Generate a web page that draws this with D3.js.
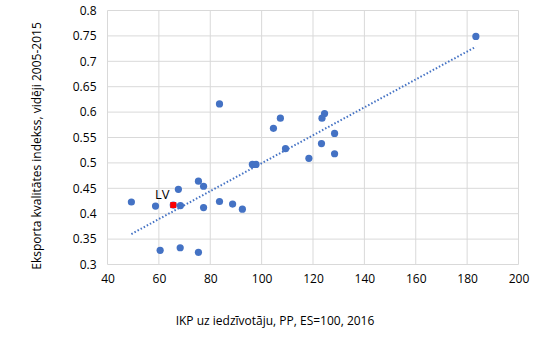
<!DOCTYPE html>
<html><head><meta charset="utf-8">
<script src="https://cdn.jsdelivr.net/npm/d3@7"></script>
<style>body{margin:0;background:#fff;} text{font-family:"Open Sans",sans-serif;}</style>
</head><body>
<svg id="c" width="535" height="355"></svg>
<script>
const gdp = [49.3,58.7,65.6,68.4,67.6,75.4,77.4,77.4,83.6,88.7,92.5,60.5,68.3,75.4,96.4,97.8,109.3,104.6,107.3,83.6,118.4,183.4,124.5,123.5,128.4,123.3,128.4];
const quality = [0.423,0.415,0.417,0.416,0.448,0.464,0.454,0.412,0.424,0.419,0.409,0.328,0.333,0.324,0.497,0.497,0.528,0.568,0.588,0.616,0.509,0.749,0.597,0.588,0.558,0.538,0.518];
const labels = ["","","LV","","","","","","","","","","","","","","","","","","","","","","","",""];
const xTicks = [40,60,80,100,120,140,160,180,200];
const yTicks = [0.3,0.35,0.4,0.45,0.5,0.55,0.6,0.65,0.7,0.75,0.8];
const xTitle = "IKP uz iedzīvotāju, PP, ES=100, 2016";
const yTitle = "Eksporta kvalitātes indekss, vidēji 2005-2015";

const FONT = "Open Sans, sans-serif";
const svg = d3.select("#c");
const x = d3.scaleLinear().domain([40,200]).range([107.5,518.5]);
const y = d3.scaleLinear().domain([0.3,0.8]).range([264.5,10.5]);
const blue = "#4472C4";

svg.append("g").selectAll("line").data(xTicks).join("line")
  .attr("x1",d=>x(d)).attr("x2",d=>x(d)).attr("y1",y(0.3)).attr("y2",y(0.8))
  .attr("stroke","#d9d9d9").attr("stroke-width",1);
svg.append("g").selectAll("line").data(yTicks).join("line")
  .attr("x1",x(40)).attr("x2",x(200)).attr("y1",d=>y(d)).attr("y2",d=>y(d))
  .attr("stroke","#d9d9d9").attr("stroke-width",1);

const xa = svg.append("g").attr("transform",`translate(0,${y(0.3)})`)
  .call(d3.axisBottom(x).tickValues(xTicks).tickSize(0).tickPadding(10).tickFormat(d3.format("d")));
xa.select(".domain").remove();
xa.selectAll("text").attr("font-size",12).attr("fill","#000").attr("font-family",FONT);
const ya = svg.append("g").attr("transform",`translate(${x(40)},0)`)
  .call(d3.axisLeft(y).tickValues(yTicks).tickSize(0).tickPadding(11).tickFormat(d=>String(+d.toFixed(2))));
ya.select(".domain").remove();
ya.selectAll("text").attr("font-size",12).attr("fill","#000").attr("font-family",FONT);

const n = gdp.length;
const mx = d3.mean(gdp), my = d3.mean(quality);
let sxy=0,sxx=0;
for(let i=0;i<n;i++){sxy+=(gdp[i]-mx)*(quality[i]-my);sxx+=(gdp[i]-mx)**2;}
const b = sxy/sxx, a = my-b*mx;
const x0 = d3.min(gdp), x1 = d3.max(gdp);
svg.append("line").attr("x1",x(x0)).attr("y1",y(a+b*x0)).attr("x2",x(x1)).attr("y2",y(a+b*x1))
  .attr("stroke",blue).attr("stroke-width",2).attr("stroke-dasharray","1.5,2");

const pts = gdp.map((g,i)=>({g,q:quality[i],l:labels[i]}));
svg.append("g").selectAll("circle").data(pts).join("circle")
  .attr("cx",d=>x(d.g)).attr("cy",d=>y(d.q)).attr("r",3.6).attr("fill",blue);
const hl = pts.filter(d=>d.l);
svg.append("g").selectAll("rect").data(hl).join("rect")
  .attr("x",d=>x(d.g)-3).attr("y",d=>y(d.q)-3).attr("width",6).attr("height",6).attr("fill","#ff0000");
svg.append("g").selectAll("text").data(hl).join("text")
  .attr("x",d=>x(d.g)-11).attr("y",d=>y(d.q)-6).attr("text-anchor","middle")
  .attr("font-size",13).text(d=>d.l);

svg.append("text").attr("x",275).attr("y",325).attr("text-anchor","middle").attr("font-size",12).text(xTitle);
svg.append("text").attr("transform",`translate(41,146) rotate(-90)`).attr("text-anchor","middle").attr("font-size",12).text(yTitle);
</script>
</body></html>
